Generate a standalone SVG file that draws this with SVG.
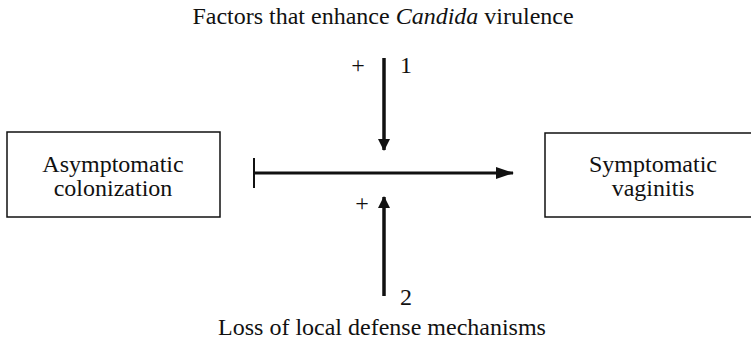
<svg xmlns="http://www.w3.org/2000/svg" width="751" height="342" viewBox="0 0 751 342">
<style>
text{font-family:"Liberation Serif","Times New Roman",serif;font-size:24px;fill:#111}
.box{fill:#fff;stroke:#111;stroke-width:1.5}
.ln{stroke:#111;fill:none}
</style>
<defs>
<marker id="ah" viewBox="0 0 12 12" refX="11" refY="6" markerWidth="12" markerHeight="12" markerUnits="userSpaceOnUse" orient="auto">
<path d="M0,0 L12,6 L0,12 Z" fill="#111"/>
</marker>
<marker id="ahs" viewBox="0 0 18 12" refX="17" refY="6" markerWidth="18" markerHeight="12" markerUnits="userSpaceOnUse" orient="auto">
<path d="M0,0 L18,6 L0,12 Z" fill="#111"/>
</marker>
</defs>
<rect width="751" height="342" fill="#fff"/>
<g id="title"><text x="383" y="24" text-anchor="middle">Factors that enhance <tspan font-style="italic">Candida</tspan> virulence</text></g>
<g id="bottom"><text x="382" y="335" text-anchor="middle">Loss of local defense mechanisms</text></g>
<g id="asymptomatic">
<rect class="box" x="7" y="132" width="213" height="85"/>
<text x="113" y="172" text-anchor="middle">Asymptomatic</text>
<text x="113" y="196" text-anchor="middle">colonization</text>
</g>
<g id="symptomatic">
<rect class="box" x="545" y="133" width="210" height="84"/>
<text x="653" y="172" text-anchor="middle">Symptomatic</text>
<text x="653" y="196" text-anchor="middle">vaginitis</text>
</g>
<g id="connectors">
<line class="ln" x1="254" y1="158" x2="254" y2="188" stroke-width="2"/>
<line class="ln" x1="254" y1="173" x2="513" y2="173" stroke-width="3" marker-end="url(#ahs)"/>
<line class="ln" x1="384" y1="58" x2="384" y2="150" stroke-width="3.5" marker-end="url(#ah)"/>
<line class="ln" x1="384" y1="296" x2="384" y2="197" stroke-width="3.5" marker-end="url(#ah)"/>
</g>
<g id="labels">
<text x="358" y="73" text-anchor="middle">+</text>
<text x="406" y="73" text-anchor="middle">1</text>
<text x="362" y="211" text-anchor="middle">+</text>
<text x="406" y="305" text-anchor="middle">2</text>
</g>
</svg>
